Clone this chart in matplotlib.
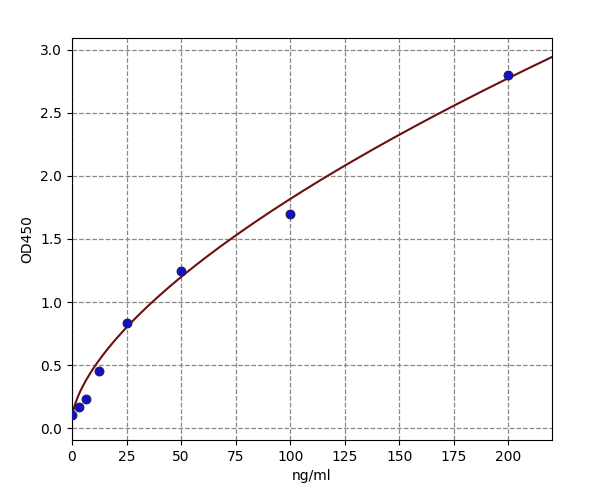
import numpy as np
import matplotlib
matplotlib.use("Agg")
import matplotlib.pyplot as plt

conc = [0, 3.125, 6.25, 12.5, 25, 50, 100, 200]
od = [0.10, 0.17, 0.23, 0.45, 0.83, 1.25, 1.70, 2.80]
# fitted curve parameters: y = a + b * x**c
fit_a, fit_b, fit_c = 0.07, 0.0956, 0.631

fig = plt.figure(figsize=(6, 5), dpi=100)
ax = fig.add_axes([0.12, 0.12, 0.80, 0.804])
xs = np.linspace(0, 220, 400)
ax.plot(xs, fit_a + fit_b * xs**fit_c, color="#6b0f10", lw=1.5, zorder=2)
ax.scatter(conc, od, s=40, color="#1010c8", edgecolors="#202050", linewidths=0.8, zorder=3)
ax.set_xlim(0, 220)
ax.set_ylim(-0.095, 3.095)
ax.set_xticks(range(0, 201, 25))
ax.set_yticks(np.arange(0, 3.01, 0.5))
ax.grid(True, linestyle="--", color="#888888", lw=0.9)
ax.set_xlabel("ng/ml")
ax.set_ylabel("OD450")
fig.savefig("out.png", dpi=100)
